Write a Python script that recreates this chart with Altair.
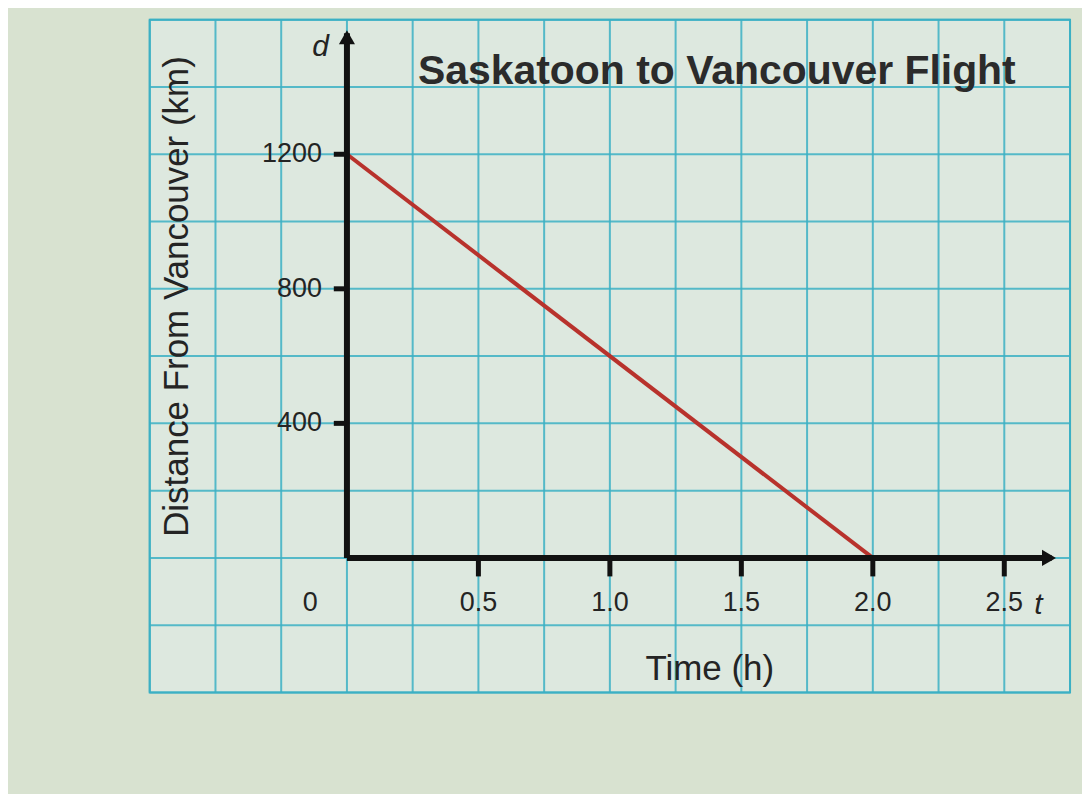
import altair as alt
import pandas as pd

# ---- data ----
time_h = [0.0, 2.0]
distance_km = [1200, 0]

x_ticks = [0.5, 1.0, 1.5, 2.0, 2.5]
x_tick_labels = ["0.5", "1.0", "1.5", "2.0", "2.5"]
y_ticks = [400, 800, 1200]
y_tick_labels = ["400", "800", "1200"]

x_grid = [-0.75 + 0.25 * i for i in range(15)]
y_grid = [-400 + 200 * i for i in range(11)]

title_text = "Saskatoon to Vancouver Flight"
x_title = "Time (h)"
y_title = "Distance From Vancouver (km)"

X_DOM = [-0.75, 2.75]
Y_DOM = [-400, 1600]

xs = alt.Scale(domain=X_DOM, nice=False, zero=False)
ys = alt.Scale(domain=Y_DOM, nice=False, zero=False)

FONT = "Liberation Sans"
TXT = "#242424"
GRID = "#3cb0c4"


def X(field="x"):
    return alt.X(f"{field}:Q", scale=xs, axis=None)


def Y(field="y"):
    return alt.Y(f"{field}:Q", scale=ys, axis=None)


# grid
vgrid = alt.Chart(pd.DataFrame({"x": x_grid})).mark_rule(
    color=GRID, strokeWidth=2, opacity=0.85
).encode(x=X())
hgrid = alt.Chart(pd.DataFrame({"y": y_grid})).mark_rule(
    color=GRID, strokeWidth=2, opacity=0.85
).encode(y=Y())

# axes lines
yaxis = alt.Chart(pd.DataFrame({"x": [0], "y": [0], "y2": [1560]})).mark_rule(
    color="#111111", strokeWidth=6
).encode(x=X(), y=Y(), y2="y2:Q")
xaxis = alt.Chart(pd.DataFrame({"x": [0], "x2": [2.68], "y": [0]})).mark_rule(
    color="#111111", strokeWidth=6
).encode(x=X(), x2="x2:Q", y=Y())

yarrow = alt.Chart(pd.DataFrame({"x": [0], "y": [1548]})).mark_point(
    shape="triangle-up", filled=True, color="#111111", size=260, opacity=1
).encode(x=X(), y=Y())
xarrow = alt.Chart(pd.DataFrame({"x": [2.67], "y": [0]})).mark_point(
    shape="triangle-right", filled=True, color="#111111", size=260, opacity=1
).encode(x=X(), y=Y())

# tick marks
xtick_df = pd.DataFrame({"x": x_ticks, "y": [0] * len(x_ticks), "y2": [-55] * len(x_ticks),
                         "label": x_tick_labels})
xtickmarks = alt.Chart(xtick_df).mark_rule(color="#111111", strokeWidth=5).encode(
    x=X(), y=Y(), y2="y2:Q"
)
xticklabels = alt.Chart(xtick_df).mark_text(
    font=FONT, fontSize=27, color=TXT, baseline="middle", align="center"
).encode(x=X(), y=alt.Y("ly:Q", scale=ys, axis=None), text="label:N").transform_calculate(
    ly="-135"
)

ytick_df = pd.DataFrame({"y": y_ticks, "x": [0] * len(y_ticks), "x2": [-0.05] * len(y_ticks),
                         "label": y_tick_labels})
ytickmarks = alt.Chart(ytick_df).mark_rule(color="#111111", strokeWidth=5).encode(
    x=X(), x2="x2:Q", y=Y()
)
yticklabels = alt.Chart(ytick_df).mark_text(
    font=FONT, fontSize=27, color=TXT, baseline="middle", align="right"
).encode(x=alt.X("lx:Q", scale=xs, axis=None), y=Y(), text="label:N").transform_calculate(
    lx="-0.095"
)

# free labels
zero_label = alt.Chart(pd.DataFrame({"x": [-0.14], "y": [-135], "t": ["0"]})).mark_text(
    font=FONT, fontSize=27, color=TXT, baseline="middle", align="center"
).encode(x=X(), y=Y(), text="t:N")

var_df = pd.DataFrame({"x": [-0.1, 2.63], "y": [1520, -140], "t": ["d", "t"]})
var_labels = alt.Chart(var_df).mark_text(
    font=FONT, fontSize=30, fontStyle="italic", color=TXT, baseline="middle", align="center"
).encode(x=X(), y=Y(), text="t:N")

title_mark = alt.Chart(pd.DataFrame({"x": [0.27], "y": [1445], "t": [title_text]})).mark_text(
    font=FONT, fontSize=41, fontWeight="bold", color="#2b2b2b", baseline="middle", align="left"
).encode(x=X(), y=Y(), text="t:N")

xtitle_mark = alt.Chart(pd.DataFrame({"x": [1.38], "y": [-330], "t": [x_title]})).mark_text(
    font=FONT, fontSize=35, color=TXT, baseline="middle", align="center"
).encode(x=X(), y=Y(), text="t:N")

ytitle_mark = alt.Chart(pd.DataFrame({"x": [-0.645], "y": [777], "t": [y_title]})).mark_text(
    font=FONT, fontSize=35, color=TXT, baseline="middle", align="center", angle=270
).encode(x=X(), y=Y(), text="t:N")

# data line
line = alt.Chart(pd.DataFrame({"x": time_h, "y": distance_km})).mark_line(
    color="#b8322c", strokeWidth=4
).encode(x=X(), y=Y())

chart = alt.layer(
    vgrid, hgrid, line, yaxis, xaxis, yarrow, xarrow,
    xtickmarks, ytickmarks, xticklabels, yticklabels, zero_label, var_labels,
    title_mark, xtitle_mark, ytitle_mark,
).properties(
    width=922, height=674,
    padding={"left": 141, "top": 10, "right": 11, "bottom": 100},
    background="#d8e2d0",
).configure_view(
    fill="#dde8df", stroke=GRID, strokeWidth=2
)

chart.save("out.html", embed_options={"renderer": "svg", "actions": False})
